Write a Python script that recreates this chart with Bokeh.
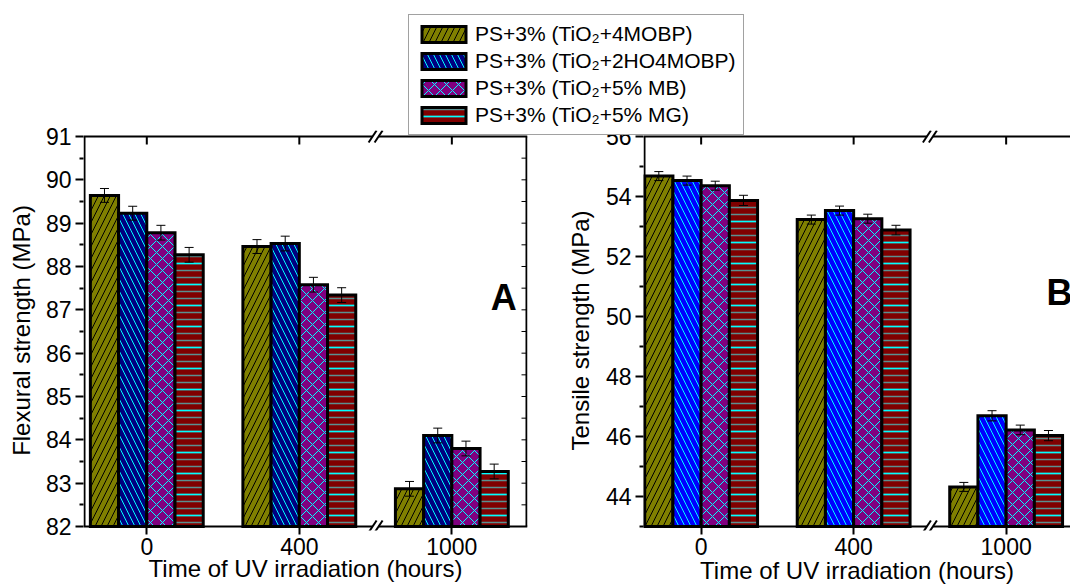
from bokeh.plotting import figure
from bokeh.models import (Range1d, FixedTicker, ColumnDataSource, Whisker,
                          Legend, LegendItem, Label, TeeHead)
from bokeh.layouts import row, column
from bokeh.embed import file_html
from bokeh.resources import INLINE

# ---------------- data ----------------
times = ["0", "400", "1000"]
series = ["PS+3% (TiO\u2082+4MOBP)", "PS+3% (TiO\u2082+2HO4MOBP)",
          "PS+3% (TiO\u2082+5% MB)", "PS+3% (TiO\u2082+5% MG)"]

flex_4mobp = [89.64, 88.46, 82.87]
flex_2ho4mobp = [89.23, 88.53, 84.10]
flex_mb = [88.78, 87.58, 83.80]
flex_mg = [88.27, 87.34, 83.27]
flex_err_4mobp = [0.16, 0.16, 0.17]
flex_err_2ho4mobp = [0.16, 0.17, 0.17]
flex_err_mb = [0.17, 0.17, 0.17]
flex_err_mg = [0.17, 0.17, 0.17]

tens_4mobp = [54.68, 53.23, 44.32]
tens_2ho4mobp = [54.53, 53.53, 46.69]
tens_mb = [54.36, 53.26, 46.22]
tens_mg = [53.87, 52.88, 46.03]
tens_err_4mobp = [0.15, 0.15, 0.15]
tens_err_2ho4mobp = [0.15, 0.15, 0.17]
tens_err_mb = [0.15, 0.15, 0.16]
tens_err_mg = [0.17, 0.16, 0.17]

flex_ticks = [82, 83, 84, 85, 86, 87, 88, 89, 90, 91]
tens_ticks = [44, 46, 48, 50, 52, 54, 56]
tens_axis_min = 43

# ---------------- style ----------------
FONT = "Liberation Sans"
OLIVE = "#808000"
NAVY = "#000080"
BLUE = "#0000FF"
PURPLE = "#800080"
MAROON = "#800000"
CYAN = "#00FFFF"
GREY = "#5a9090"
BAR_W = 0.185
EXT_TOP = 6      # px the frame reaches above the drawn top line
EXT_BOT = 4      # px the frame reaches below the drawn bottom line
H = 586
LINE_TOP, LINE_BOT = 136, 527   # page px of the drawn top / bottom axis lines


def bar_layers(k, second_color):
    common = dict(line_color="black", line_width=3, line_join="miter")
    if k == 0:
        return [dict(fill_color=OLIVE, hatch_pattern="/", hatch_color="black",
                     hatch_scale=12, hatch_weight=1, **common)]
    if k == 1:
        return [dict(fill_color=second_color, hatch_pattern="\\", hatch_color=CYAN,
                     hatch_scale=12, hatch_weight=1, **common)]
    if k == 2:
        return [dict(fill_color=PURPLE, hatch_pattern="x", hatch_color=CYAN,
                     hatch_scale=12, hatch_weight=1, **common)]
    return [dict(fill_color=MAROON, hatch_pattern="-", hatch_color=GREY,
                 hatch_scale=7, hatch_weight=1.5, line_color=None),
            dict(fill_alpha=0, hatch_pattern="-", hatch_color=CYAN,
                 hatch_scale=21, hatch_weight=1.5, **common)]


def make_panel(width, border_left, border_right, x0, x1, y0, y1, yticks, yminor,
               ylabel, ylabel_standoff, xlabel_standoff, vals, errs, second_color,
               letter, letter_xy, right_frame, **kw):
    fw = width - border_left - border_right
    uy = (y1 - y0) / (LINE_BOT - LINE_TOP)
    ux = (x1 - x0) / fw
    p = figure(width=width, height=H,
               x_range=Range1d(x0, x1),
               y_range=Range1d(y0 - EXT_BOT * uy, y1 + EXT_TOP * uy),
               output_backend="svg", toolbar_location=None,
               min_border_left=border_left, min_border_right=border_right,
               min_border_top=LINE_TOP - EXT_TOP, min_border_bottom=H - LINE_BOT - EXT_BOT,
               outline_line_color=None, background_fill_alpha=0, border_fill_alpha=0, **kw)
    p.xgrid.visible = False
    p.ygrid.visible = False
    for ax in p.xaxis + p.yaxis:
        ax.axis_line_color = None
        ax.major_tick_line_width = 2
        ax.minor_tick_line_width = 2
        ax.major_tick_line_color = "black"
        ax.minor_tick_line_color = "black"
        ax.major_label_text_font = FONT
        ax.major_label_text_font_size = "23px"
        ax.major_label_text_color = "black"
        ax.axis_label_text_font = FONT
        ax.axis_label_text_font_size = "24px"
        ax.axis_label_text_font_style = "normal"
        ax.axis_label_text_color = "black"
    # x axis (bottom): ticks 8px below the drawn line
    p.xaxis.ticker = FixedTicker(ticks=list(range(len(times))))
    p.xaxis.major_label_overrides = {i: t for i, t in enumerate(times)}
    p.xaxis.minor_tick_line_color = None
    p.xaxis.major_tick_in = EXT_BOT
    p.xaxis.major_tick_out = 8 - EXT_BOT
    p.xaxis.major_label_standoff = 3
    p.xaxis.axis_label = "Time of UV irradiation (hours)"
    p.xaxis.axis_label_standoff = xlabel_standoff
    # y axis (left)
    p.yaxis.ticker = FixedTicker(ticks=yticks, minor_ticks=yminor)
    p.yaxis.major_tick_in = 0
    p.yaxis.major_tick_out = 8
    p.yaxis.minor_tick_in = 0
    p.yaxis.minor_tick_out = 4
    p.yaxis.major_label_standoff = 4
    p.yaxis.axis_label = ylabel
    p.yaxis.axis_label_standoff = ylabel_standoff

    # frame lines with the axis break at x = 1.5
    g = 3 * ux
    line_kw = dict(line_color="black", line_width=2, line_cap="butt")
    for yy in (y0, y1):
        p.segment(x0=[x0, 1.5 + g], y0=[yy, yy], x1=[1.5 - g, x1], y1=[yy, yy], **line_kw)
        p.segment(x0=[1.5 + (s - 4) * ux for s in (-3, 3)], y0=[yy - 6 * uy] * 2,
                  x1=[1.5 + (s + 4) * ux for s in (-3, 3)], y1=[yy + 6 * uy] * 2, **line_kw)
    p.segment(x0=[x0 + ux], y0=[y0], x1=[x0 + ux], y1=[y1], **line_kw)
    # top ticks pointing into the plot
    p.segment(x0=list(range(len(times))), y0=[y1] * len(times),
              x1=list(range(len(times))), y1=[y1 - 8 * uy] * len(times), **line_kw)
    if right_frame:
        p.segment(x0=[x1 - ux], y0=[y0], x1=[x1 - ux], y1=[y1], **line_kw)
        rt = yticks + yminor
        p.segment(x0=[x1 - ux] * len(rt), y0=rt, x1=[x1 - 6 * ux] * len(rt), y1=rt,
                  line_color="black", line_width=1)

    for k, (v, e) in enumerate(zip(vals, errs)):
        off = (k - 1.5) * BAR_W
        xs = [i + off for i in range(len(times))]
        src = ColumnDataSource(dict(x=xs, top=v,
                                    lower=[a - b for a, b in zip(v, e)],
                                    upper=[a + b for a, b in zip(v, e)]))
        for layer in bar_layers(k, second_color):
            p.vbar(x="x", top="top", bottom=y0, width=BAR_W, source=src, **layer)
        p.add_layout(Whisker(source=src, base="x", upper="upper", lower="lower",
                             line_color="black", line_width=1, level="overlay",
                             upper_head=TeeHead(size=9, line_color="black", line_width=1),
                             lower_head=TeeHead(size=9, line_color="black", line_width=1)))

    p.add_layout(Label(x=letter_xy[0], y=letter_xy[1], text=letter, text_font=FONT,
                       text_font_size="36px", text_font_style="bold", text_color="black",
                       text_align="center", text_baseline="middle"))
    return p


# ---------------- left panel (A) ----------------
p1 = make_panel(540, 83, 13, -0.415, 2.496, flex_ticks[0], flex_ticks[-1],
                flex_ticks, [t + 0.5 for t in flex_ticks[:-1]],
                "Flexural strength (MPa)", 8, -3,
                [flex_4mobp, flex_2ho4mobp, flex_mb, flex_mg],
                [flex_err_4mobp, flex_err_2ho4mobp, flex_err_mb, flex_err_mg],
                NAVY, "A", (2.34, 87.28), True)

# ---------------- right panel (B) ----------------
p2 = make_panel(670, 243, 0, -0.378, 2.422, tens_axis_min, tens_ticks[-1],
                tens_ticks, [t - 1 for t in tens_ticks],
                "Tensile strength (MPa)", 9, -1,
                [tens_4mobp, tens_2ho4mobp, tens_mb, tens_mg],
                [tens_err_4mobp, tens_err_2ho4mobp, tens_err_mb, tens_err_mg],
                BLUE, "B", (2.35, 50.8), False, margin=(0, 0, 0, -140))

# ---------------- legend (own transparent strip on top) ----------------
legfig = figure(width=1070, height=136, x_range=Range1d(0, 1), y_range=Range1d(0, 1),
                x_axis_type=None, y_axis_type=None, output_backend="svg",
                toolbar_location=None, min_border=0, outline_line_color=None,
                background_fill_alpha=0, border_fill_alpha=0,
                margin=(-H, 0, H - 136, 0))
items = []
for k, (name, v) in enumerate(zip(series, [flex_4mobp, flex_2ho4mobp, flex_mb, flex_mg])):
    src = ColumnDataSource(dict(x=list(range(len(times))), top=v))
    rs = [legfig.vbar(x="x", top="top", bottom=0, width=BAR_W, source=src,
                      visible=False, **layer)
          for layer in bar_layers(k, NAVY)]
    items.append(LegendItem(label=name, renderers=rs))
legend = Legend(items=items, location=(408, 1), orientation="vertical",
                glyph_width=55, glyph_height=20, label_height=20, spacing=3,
                padding=7, margin=0, label_standoff=4,
                label_text_font=FONT, label_text_font_size="21px", label_text_color="black",
                border_line_color="#444444", border_line_width=1,
                background_fill_color="white", background_fill_alpha=1,
                inactive_fill_alpha=0)
legfig.add_layout(legend)

layout = column(row(p1, p2), legfig)
open("out.html", "w").write(file_html(layout, INLINE))
